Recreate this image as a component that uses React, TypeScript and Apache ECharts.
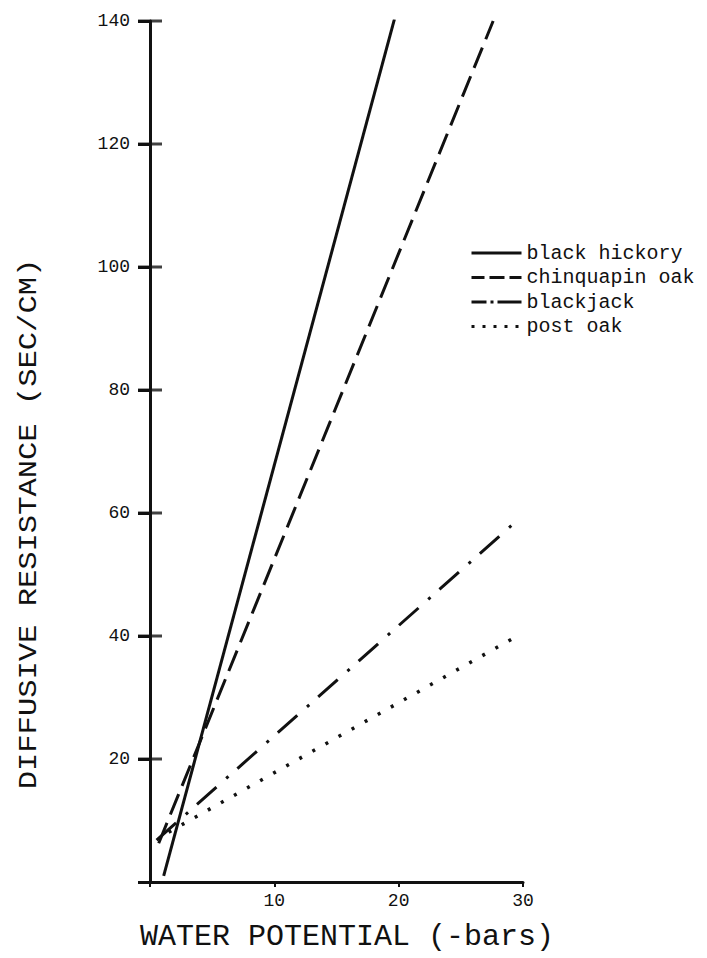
import React, { useEffect, useRef } from "react";
import * as echarts from "echarts";

const seriesNames = ["black hickory", "chinquapin oak", "blackjack", "post oak"];
const blackHickory = [[1.1, 1.0], [19.66, 140.3]];
const chinquapinOak = [[0.7, 6.3], [27.6, 140]];
const blackjack = [[0.53, 6.8], [29.6, 58.9]];
const postOak = [[1.5, 8.1], [29.8, 40.3]];
const yTicks = [20, 40, 60, 80, 100, 120, 140];
const xTicks = [10, 20, 30];

const FONT = "Liberation Mono";
const INK = "#111";

export default function App() {
  const ref = useRef<HTMLDivElement>(null);
  useEffect(() => {
    if (!ref.current) return;
    const chart = echarts.init(ref.current, null, { renderer: "svg" });
    const lineBase = { color: INK, width: 3 };
    const legendDash: any[] = ["solid", [13, 5, 15, 5, 12], [15, 4, 3, 4, 30], [3, 8]];
    chart.setOption({
      animation: false,
      backgroundColor: "#fff",
      grid: { left: 150, top: 21, right: 184, bottom: 76 },
      legend: {
        orient: "vertical",
        left: 470,
        top: 243,
        padding: 0,
        itemWidth: 50,
        itemHeight: 14,
        itemGap: 4.5,
        itemStyle: { color: "transparent", borderColor: "transparent", borderWidth: 0, opacity: 0 },
        data: seriesNames.map((n, i) => ({
          name: n,
          lineStyle: { type: legendDash[i], width: 3, color: INK },
        })),
        textStyle: { fontFamily: FONT, fontSize: 20, color: INK, lineHeight: 20 },
      },
      xAxis: {
        type: "value",
        min: 0,
        max: 30,
        interval: 10,
        axisLine: { lineStyle: { color: INK, width: 3 } },
        axisTick: { length: 5, lineStyle: { color: INK, width: 2 } },
        axisLabel: {
          margin: 10,
          fontFamily: FONT,
          fontSize: 18,
          color: INK,
          formatter: (v: number) => (xTicks.includes(v) ? String(v) : ""),
        },
        splitLine: { show: false },
      },
      yAxis: {
        type: "value",
        min: 0,
        max: 140,
        interval: 20,
        position: "left",
        axisLine: { show: true, lineStyle: { color: INK, width: 3 } },
        axisTick: { show: true, length: 12, lineStyle: { color: INK, width: 3 } },
        axisLabel: {
          margin: 20,
          fontFamily: FONT,
          fontSize: 18,
          color: INK,
          formatter: (v: number) => (yTicks.includes(v) ? String(v) : ""),
        },
        splitLine: { show: false },
      },
      series: [
        {
          name: seriesNames[0],
          type: "line",
          data: blackHickory,
          symbol: "none",
          lineStyle: { ...lineBase, type: "solid" },
          itemStyle: { color: INK },
        },
        {
          name: seriesNames[1],
          type: "line",
          data: chinquapinOak,
          symbol: "none",
          lineStyle: { ...lineBase, type: [22, 9] },
          itemStyle: { color: INK },
        },
        {
          name: seriesNames[2],
          type: "line",
          data: blackjack,
          symbol: "none",
          lineStyle: { ...lineBase, type: [26, 13, 3, 12] },
          itemStyle: { color: INK },
        },
        {
          name: seriesNames[3],
          type: "line",
          data: postOak,
          symbol: "none",
          lineStyle: { color: INK, width: 3.5, type: [3, 12] },
          itemStyle: { color: INK },
        },
        {
          name: "_yTickMarks",
          type: "scatter",
          data: yTicks.map((v) => [0, v]),
          symbol: "rect",
          symbolSize: [24, 3],
          clip: false,
          silent: true,
          z: 5,
          itemStyle: { color: INK },
        },
      ],
      graphic: [
        {
          type: "text",
          x: 347,
          y: 937,
          style: {
            text: "WATER POTENTIAL (-bars)",
            fontFamily: FONT,
            fontSize: 30,
            fill: INK,
            textAlign: "center",
            textVerticalAlign: "middle",
          },
        },
        {
          type: "text",
          x: 29,
          y: 524,
          rotation: Math.PI / 2,
          scaleX: 1.22,
          style: {
            text: "DIFFUSIVE RESISTANCE (SEC/CM)",
            fontFamily: FONT,
            fontSize: 25,
            fill: INK,
            textAlign: "center",
            textVerticalAlign: "middle",
          },
        },
      ],
    });
    return () => chart.dispose();
  }, []);
  return (
    <div
      ref={ref}
      style={{ position: "absolute", left: 0, top: 0, width: 707, height: 958 }}
    />
  );
}
